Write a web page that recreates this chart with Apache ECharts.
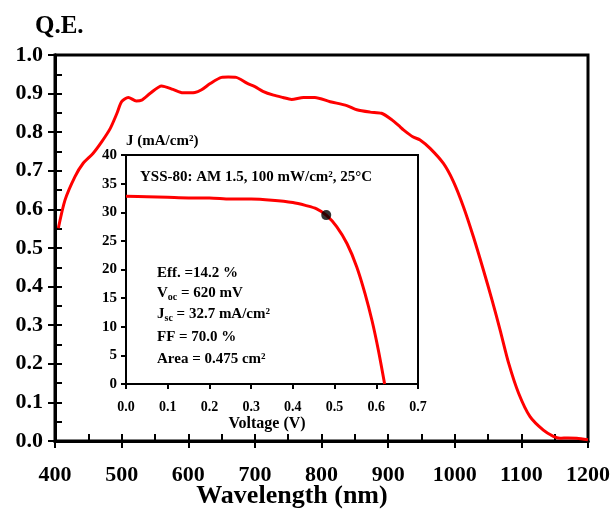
<!DOCTYPE html>
<html>
<head>
<meta charset="utf-8">
<script src="https://cdn.jsdelivr.net/npm/echarts@6/dist/echarts.min.js"></script>
<style>
  html, body { margin: 0; padding: 0; background: #fff; }
  #chart { width: 613px; height: 509px; }
</style>
</head>
<body>
<div id="chart"></div>
<script>
// ---- Data ----
const qeWavelength = [405, 415, 430, 442, 457, 470, 483, 493, 500, 510, 522, 530, 543, 560, 577, 592, 610, 620, 633, 650, 660, 672, 688, 700, 712, 728, 742, 755, 773, 790, 813, 838, 853, 873, 890, 905, 918, 923, 937, 948, 963, 983, 998, 1013, 1028, 1043, 1056, 1068, 1081, 1096, 1113, 1133, 1148, 1158, 1170, 1183, 1200];
const qeValues     = [0.551, 0.624, 0.685, 0.719, 0.745, 0.775, 0.810, 0.849, 0.879, 0.890, 0.881, 0.883, 0.901, 0.920, 0.911, 0.902, 0.903, 0.910, 0.926, 0.942, 0.943, 0.942, 0.927, 0.918, 0.906, 0.896, 0.890, 0.885, 0.890, 0.890, 0.879, 0.869, 0.858, 0.852, 0.849, 0.833, 0.814, 0.806, 0.788, 0.780, 0.758, 0.719, 0.672, 0.607, 0.529, 0.443, 0.365, 0.288, 0.201, 0.123, 0.063, 0.028, 0.012, 0.007, 0.008, 0.007, 0.003];

const ivVoltage = [0, 0.05, 0.1, 0.15, 0.2, 0.25, 0.3, 0.35, 0.4, 0.43, 0.457, 0.48, 0.505, 0.53, 0.553, 0.573, 0.59, 0.605, 0.62];
const ivCurrent = [32.8, 32.7, 32.6, 32.5, 32.5, 32.3, 32.3, 32.1, 31.7, 31.2, 30.6, 29.5, 27.5, 24.5, 20.5, 15.8, 11.0, 5.9, 0];
const mppPoint  = [0.48, 29.5];

const qeTicks = { xMin: 400, xMax: 1200, xStep: 100, yMin: 0, yMax: 1.0, yStep: 0.1 };
const ivTicks = { xMin: 0, xMax: 0.7, xStep: 0.1, yMin: 0, yMax: 40, yStep: 5 };

// ---- Chart ----
const FONT = '"Liberation Serif", "Times New Roman", serif';
const chart = echarts.init(document.getElementById('chart'), null, { renderer: 'canvas' });

function axisPair(base, labelOpts, lineW, tickLen, minorLen) {
  const outer = Object.assign({}, base, {
    axisLine: { show: true, onZero: false, lineStyle: { color: '#000', width: lineW } },
    axisTick: { show: true, inside: false, length: tickLen, lineStyle: { color: '#000', width: 2 } },
    minorTick: { show: false },
    axisLabel: labelOpts,
    splitLine: { show: false }
  });
  const inner = Object.assign({}, base, {
    axisLine: { show: true, onZero: false, lineStyle: { color: '#000', width: lineW } },
    axisTick: { show: true, inside: true, length: tickLen, lineStyle: { color: '#000', width: 2 } },
    minorTick: { show: true, splitNumber: 2, length: minorLen, lineStyle: { color: '#000', width: 2 } },
    axisLabel: { show: false },
    splitLine: { show: false }
  });
  return [outer, inner];
}

const mainX = axisPair({ type: 'value', gridIndex: 0, position: 'bottom', min: qeTicks.xMin, max: qeTicks.xMax, interval: qeTicks.xStep },
  { show: true, color: '#000', fontFamily: FONT, fontWeight: 'bold', fontSize: 22, margin: 23, formatter: v => String(v) }, 3, 7, 7);
const mainY = axisPair({ type: 'value', gridIndex: 0, position: 'left', min: qeTicks.yMin, max: qeTicks.yMax, interval: qeTicks.yStep },
  { show: true, color: '#000', fontFamily: FONT, fontWeight: 'bold', fontSize: 22, margin: 12, formatter: v => v.toFixed(1) }, 3, 7, 7);
const insetX = axisPair({ type: 'value', gridIndex: 1, position: 'bottom', min: ivTicks.xMin, max: ivTicks.xMax, interval: ivTicks.xStep },
  { show: true, color: '#000', fontFamily: FONT, fontWeight: 'bold', fontSize: 14, margin: 16, formatter: v => v.toFixed(1) }, 2, 5, 5);
const insetY = axisPair({ type: 'value', gridIndex: 1, position: 'left', min: ivTicks.yMin, max: ivTicks.yMax, interval: ivTicks.yStep },
  { show: true, color: '#000', fontFamily: FONT, fontWeight: 'bold', fontSize: 15, margin: 9, formatter: v => String(v) }, 2, 5, 5);

const txt = (x, y, text, size, extra) => Object.assign({
  type: 'text', x: x, y: y, z: 100,
  style: Object.assign({ text: text, fill: '#000', font: 'bold ' + size + 'px ' + FONT, verticalAlign: 'middle' }, extra || {})
});

const richStyles = {
  b: { fontFamily: FONT, fontWeight: 'bold', fontSize: 15, lineHeight: 18, color: '#000' },
  s: { fontFamily: FONT, fontWeight: 'bold', fontSize: 10, lineHeight: 12, color: '#000', verticalAlign: 'bottom' }
};
const richTxt = (x, y, text) => ({
  type: 'text', x: x, y: y, z: 100,
  style: { text: text, rich: richStyles, fill: '#000', font: 'bold 15px ' + FONT, verticalAlign: 'middle' }
});

chart.setOption({
  animation: false,
  backgroundColor: '#fff',
  grid: [
    { left: 55, top: 55, width: 533, height: 386, show: true, borderColor: '#000', borderWidth: 3, backgroundColor: 'transparent', containLabel: false },
    { left: 126, top: 155, width: 292, height: 229, show: true, borderColor: '#000', borderWidth: 2, backgroundColor: '#fff', containLabel: false, z: 3 }
  ],
  xAxis: [mainX[0], mainX[1], insetX[0], insetX[1]],
  yAxis: [mainY[0], mainY[1], insetY[0], insetY[1]],
  series: [
    {
      type: 'line', xAxisIndex: 0, yAxisIndex: 0,
      data: qeWavelength.map((w, i) => [w, qeValues[i]]),
      smooth: 0.25, showSymbol: false, symbol: 'none',
      lineStyle: { color: '#ff0000', width: 3 }, z: 2
    },
    {
      type: 'line', xAxisIndex: 2, yAxisIndex: 2,
      data: ivVoltage.map((v, i) => [v, ivCurrent[i]]),
      smooth: 0.3, showSymbol: false, symbol: 'none',
      lineStyle: { color: '#ff0000', width: 3 }, z: 5
    },
    {
      type: 'scatter', xAxisIndex: 2, yAxisIndex: 2,
      data: [mppPoint], symbol: 'circle', symbolSize: 10,
      itemStyle: { color: '#000' }, z: 6
    }
  ],
  graphic: [
    txt(35, 27, 'Q.E.', 25),
    txt(292, 496, 'Wavelength (nm)', 26, { align: 'center' }),
    txt(267, 424, 'Voltage (V)', 16, { align: 'center' }),
    txt(126, 141, 'J (mA/cm²)', 15),
    txt(140, 177, 'YSS-80: AM 1.5, 100 mW/cm², 25°C', 15),
    richTxt(157, 273, '{b|Eff. =14.2 %}'),
    richTxt(157, 293, '{b|V}{s|oc}{b| = 620 mV}'),
    richTxt(157, 314, '{b|J}{s|sc}{b| = 32.7 mA/cm²}'),
    richTxt(157, 337, '{b|FF = 70.0 %}'),
    richTxt(157, 359, '{b|Area = 0.475 cm²}')
  ]
});
</script>
</body>
</html>
